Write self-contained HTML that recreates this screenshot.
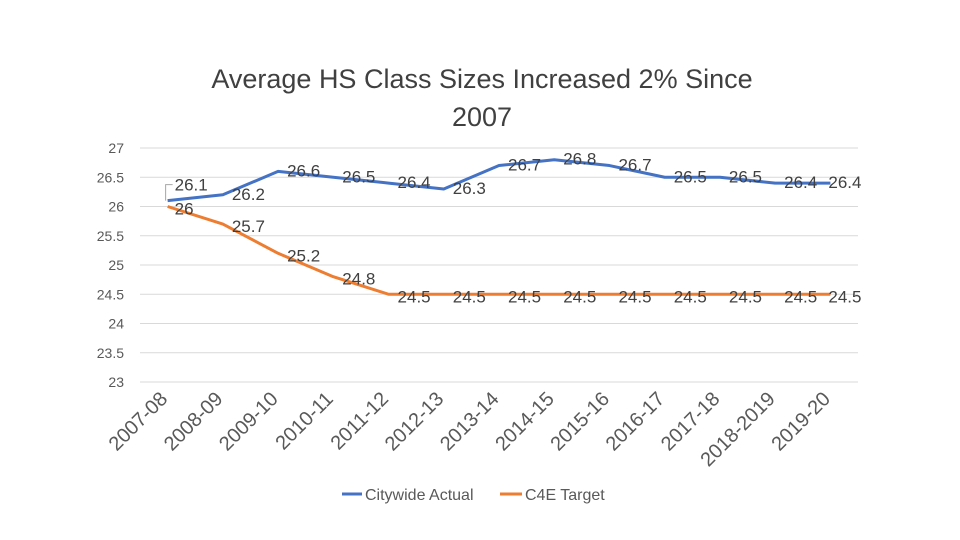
<!DOCTYPE html>
<html><head><meta charset="utf-8"><style>
body{margin:0;background:#fff;}
svg{display:block;font-family:"Liberation Sans",sans-serif;}
</style></head><body>
<svg id="c" width="960" height="540">
<text x="482" y="88" text-anchor="middle" font-size="27" fill="#404040">Average HS Class Sizes Increased 2% Since</text>
<text x="482" y="126" text-anchor="middle" font-size="27" fill="#404040">2007</text>
<g id="grid"></g><g id="yt"></g><g id="xt"></g><g id="lines"></g><g id="labels"></g>
<g>
<line x1="342" y1="494" x2="362" y2="494" stroke="#4472C4" stroke-width="3"/>
<text x="365" y="500" font-size="16" fill="#595959">Citywide Actual</text>
<line x1="500" y1="494" x2="522" y2="494" stroke="#ED7D31" stroke-width="3"/>
<text x="525" y="500" font-size="16" fill="#595959">C4E Target</text>
</g>
</svg>
<script>
const categories=["2007-08","2008-09","2009-10","2010-11","2011-12","2012-13","2013-14","2014-15","2015-16","2016-17","2017-18","2018-2019","2019-20"];
const actual=[26.1,26.2,26.6,26.5,26.4,26.3,26.7,26.8,26.7,26.5,26.5,26.4,26.4];
const target=[26,25.7,25.2,24.8,24.5,24.5,24.5,24.5,24.5,24.5,24.5,24.5,24.5];
const yTicks=[23,23.5,24,24.5,25,25.5,26,26.5,27];
const NS="http://www.w3.org/2000/svg";
const L=140,R=858,T=148,B=382,yMin=23,yMax=27;
const bw=(R-L)/categories.length;
function x(i){return L+bw*(i+0.5);}
function y(v){return B-(v-yMin)/(yMax-yMin)*(B-T);}
function mk(tag,attrs,parent,txt){const e=document.createElementNS(NS,tag);for(const k in attrs)e.setAttribute(k,attrs[k]);if(txt!==undefined)e.textContent=txt;document.getElementById(parent).appendChild(e);return e;}
yTicks.forEach(v=>{
 const g=mk("line",{x1:L,x2:R,y1:y(v),y2:y(v),stroke:"#d9d9d9","stroke-width":1},"grid");
 
 
 const t=mk("text",{x:124,y:y(v)+5,"text-anchor":"end","font-size":14,fill:"#595959"},"yt",String(v));
 
 
});
categories.forEach((c,i)=>{
 const ax=x(i)+1,ay=400;
 const t=mk("text",{x:ax,y:ay,"text-anchor":"end","font-size":20,fill:"#595959",transform:`rotate(-45 ${ax} ${ay})`},"xt",c);
 
 
});
function series(vals,color,name){
 const p=mk("polyline",{points:vals.map((v,i)=>x(i)+","+y(v)).join(" "),fill:"none",stroke:color,"stroke-width":3,"stroke-linejoin":"round"},"lines");
 
 
}
series(actual,"#4472C4","citywide-actual-line");
series(target,"#ED7D31","c4e-target-line");
function labels(vals,name,dy){
 vals.forEach((v,i)=>{
  let lx=x(i)+9,ly=y(v)+dy;
  if(i===vals.length-1)lx=x(i)-2;
  if(i===0){ly=name==="actual-label"?y(v)-10:y(v)+8;lx=x(i)+7;}
  const t=mk("text",{x:lx,y:ly,"font-size":17,fill:"#404040"},"labels",String(v));
  
  
 });
}
labels(actual,"actual-label",5);
labels(target,"target-label",8);
mk("polyline",{points:`${x(0)-2},${y(26.1)} ${x(0)-2},${y(26.1)-16} ${x(0)+5},${y(26.1)-16}`,fill:"none",stroke:"#a6a6a6","stroke-width":1},"labels");
</script>
</body></html>
